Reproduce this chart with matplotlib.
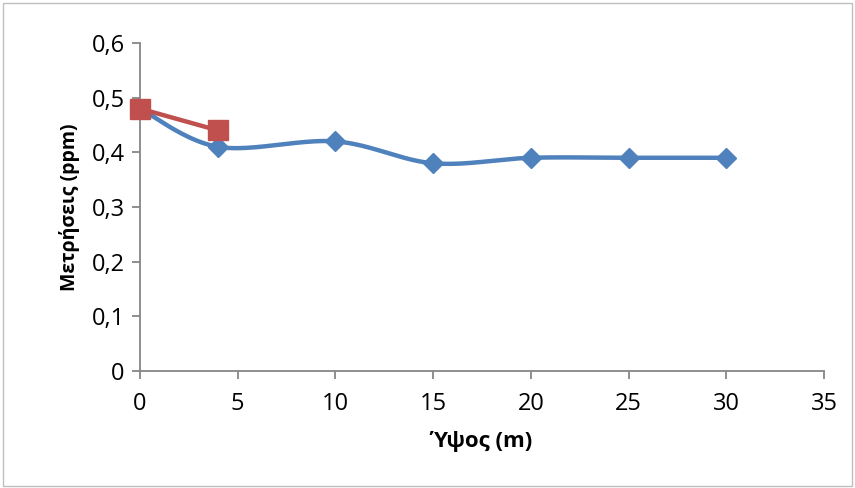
import numpy as np
import matplotlib
matplotlib.use("Agg")
import matplotlib.pyplot as plt
from matplotlib.ticker import FuncFormatter
from matplotlib.patches import Rectangle

plt.rcParams['font.family'] = ['Open Sans', 'DejaVu Sans']

# Measurements vs height
height_blue = [0, 4, 10, 15, 20, 25, 30]
values_blue = [0.48, 0.41, 0.42, 0.38, 0.39, 0.39, 0.39]
height_red = [0, 4]
values_red = [0.48, 0.44]

x_ticks = [0, 5, 10, 15, 20, 25, 30, 35]
y_ticks = [0, 0.1, 0.2, 0.3, 0.4, 0.5, 0.6]

BLUE = '#4F81BD'
RED = '#C0504D'
GRID = '#868686'


def smooth(xs, ys, n=40):
    """Cubic Bezier smoothing through every point (spreadsheet style)."""
    pts = np.column_stack([xs, ys]).astype(float)
    if len(pts) < 3:
        return pts[:, 0], pts[:, 1]
    ext = np.vstack([pts[0], pts, pts[-1]])
    out = []
    t = np.linspace(0, 1, n)[:, None]
    for i in range(len(pts) - 1):
        p0, p1, p2, p3 = ext[i], ext[i + 1], ext[i + 2], ext[i + 3]
        c1 = p1 + (p2 - p0) / 6.0
        c2 = p2 - (p3 - p1) / 6.0
        seg = ((1 - t) ** 3) * p1 + 3 * ((1 - t) ** 2) * t * c1 + 3 * (1 - t) * t ** 2 * c2 + t ** 3 * p2
        out.append(seg if i == 0 else seg[1:])
    out = np.vstack(out)
    return out[:, 0], out[:, 1]


fig = plt.figure(figsize=(8.55, 4.88), dpi=100)
ax = fig.add_axes([0.1637, 0.2398, 0.8, 0.6721])

bx, by = smooth(height_blue, values_blue)
ax.plot(bx, by, color=BLUE, lw=3.2, solid_capstyle='round', zorder=3,
        clip_on=False)
ax.plot(height_blue, values_blue, linestyle='none', marker='D', ms=10,
        color=BLUE, zorder=4, clip_on=False)

ax.plot(height_red, values_red, color=RED, lw=3.2, marker='s', ms=14,
        zorder=5, clip_on=False)

ax.set_xlim(0, 35)
ax.set_ylim(0, 0.6)
ax.set_xticks(x_ticks)
ax.set_yticks(y_ticks)
fmt = FuncFormatter(lambda v, p: ('%g' % round(v, 2)).replace('.', ','))
ax.yaxis.set_major_formatter(fmt)
ax.xaxis.set_major_formatter(FuncFormatter(lambda v, p: '%d' % v))

for s in ['top', 'right']:
    ax.spines[s].set_visible(False)
for s in ['left', 'bottom']:
    ax.spines[s].set_color(GRID)
    ax.spines[s].set_linewidth(1.3)
ax.tick_params(axis='both', direction='out', length=6, width=1.3,
               color=GRID, labelsize=17, labelcolor='black')
ax.tick_params(axis='y', pad=5)
ax.tick_params(axis='x', pad=9)

ax.set_xlabel('Ύψος (m)', fontsize=16, fontweight='bold', labelpad=11)
ax.set_ylabel('Μετρήσεις (ppm)', fontsize=14, fontweight='bold', labelpad=8)
ax.patch.set_alpha(0)

fig.patches.append(Rectangle((0.003, 0.004), 0.994, 0.99, transform=fig.transFigure,
                             fill=False, edgecolor='#BFBFBF', lw=1.0))

fig.savefig('out.png', dpi=100)
